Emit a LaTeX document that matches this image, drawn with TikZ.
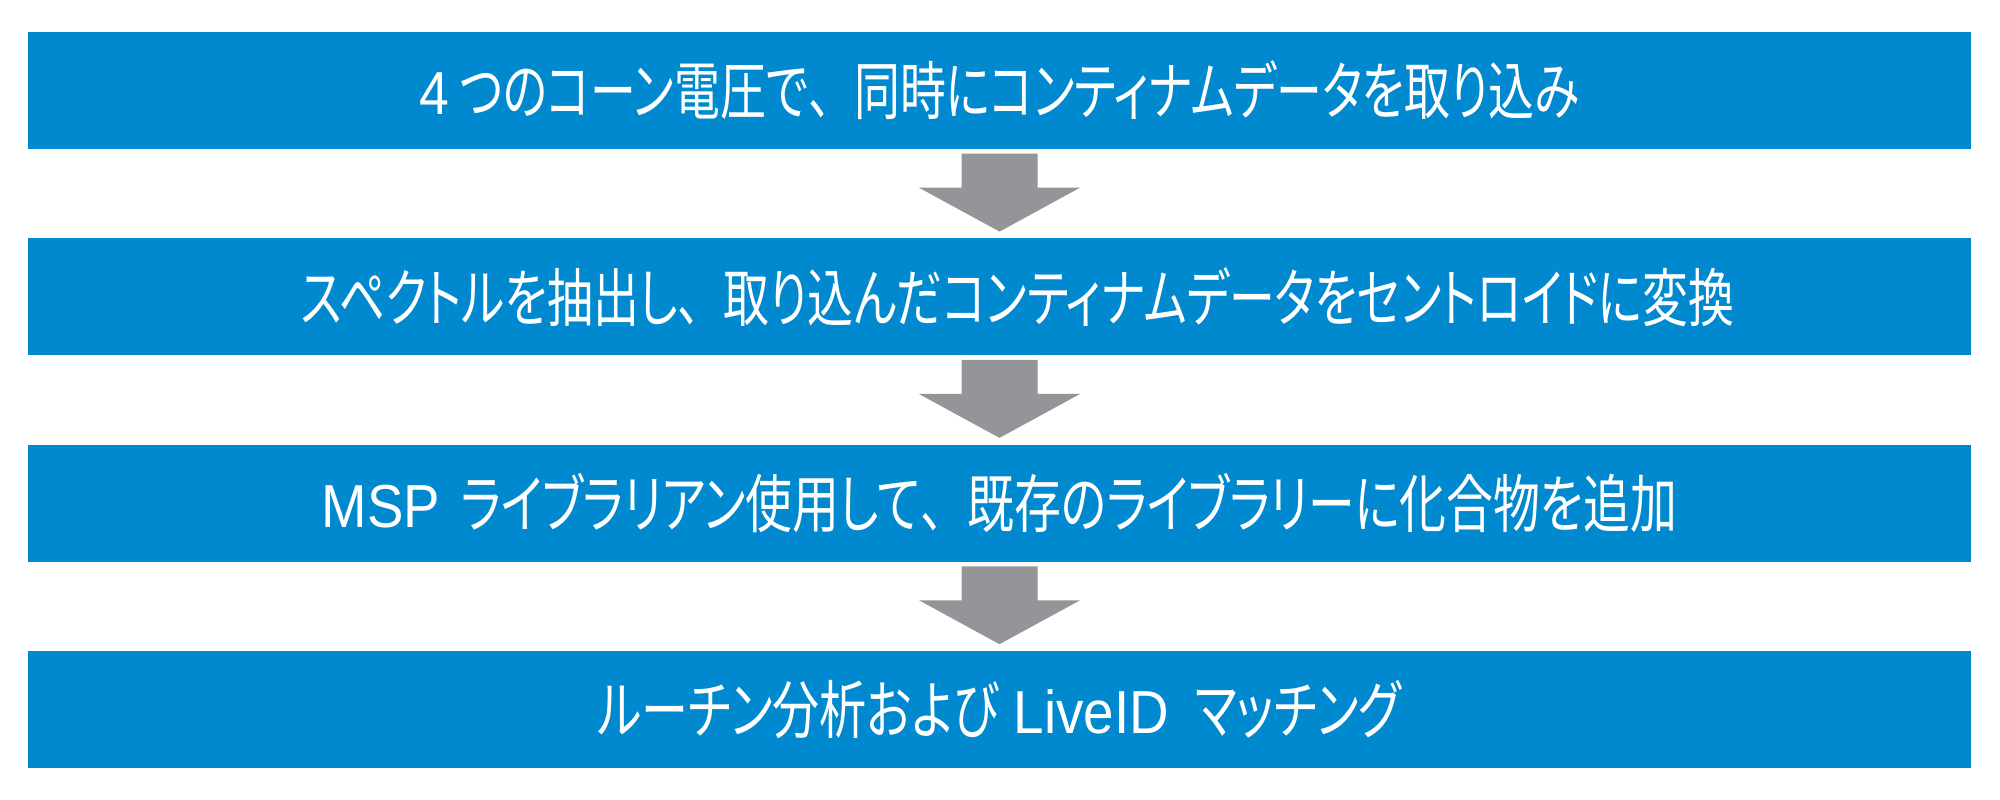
\documentclass[tikz,border=0pt]{standalone}
\usepackage{graphicx}
\usepackage{fontspec}
\setmainfont{Noto Sans CJK JP}[RawFeature=+palt, FakeStretch=0.725]
\newfontfamily\latinfont{Liberation Sans}[FakeStretch=0.88, Scale=0.96]
\newcommand{\fwcomma}{{\addfontfeature{RawFeature=-palt}、}}
\usetikzlibrary{calc}
\definecolor{barblue}{RGB}{0,137,207}
\definecolor{arrowgray}{RGB}{147,149,152}
\tikzset{
  bar/.style={fill=barblue, draw=none, minimum width=19.43cm, minimum height=1.17cm,
    inner sep=0pt, text=white, font=\fontsize{18pt}{20pt}\selectfont, anchor=center},
  flowarrow/.style={fill=arrowgray, draw=none}
}
\newcommand{\flowarr}[2]{%
  \fill[flowarrow] ($(#1.south)+(-0.38,-0.04)$) -- ($(#1.south)+(0.38,-0.04)$)
    -- ($(#1.south)+(0.38,-0.38)$) -- ($(#1.south)+(0.805,-0.38)$)
    -- ($(#2.north)+(0,0.06)$)
    -- ($(#1.south)+(-0.805,-0.38)$) -- ($(#1.south)+(-0.38,-0.38)$) -- cycle;}
\begin{document}
\begin{tikzpicture}
\useasboundingbox (0,0) rectangle (20,8);
\fill[white] (0,0) rectangle (20,8);
\node[bar] (b1) at (9.995, 7.095) {{\latinfont 4} つのコーン電圧で\fwcomma 同時にコンティナムデータを取り込み};
\node[bar] (b2) at (9.995, 5.032) {\hspace*{0.36cm}スペクトルを抽出し\fwcomma 取り込んだコンティナムデータをセントロイドに変換};
\node[bar] (b3) at (9.995, 2.969) {\scalebox{1.022}[1]{{\latinfont MSP}\hspace{0.2cm}ライブラリアン使用して\fwcomma 既存のライブラリーに化合物を追加}};
\node[bar] (b4) at (9.995, 0.906) {\scalebox{1.025}[1]{ルーチン分析および\hspace{0.15cm}{\latinfont LiveID}\hspace{0.25cm}マッチング}};
\flowarr{b1}{b2}
\flowarr{b2}{b3}
\flowarr{b3}{b4}
\end{tikzpicture}
\end{document}
